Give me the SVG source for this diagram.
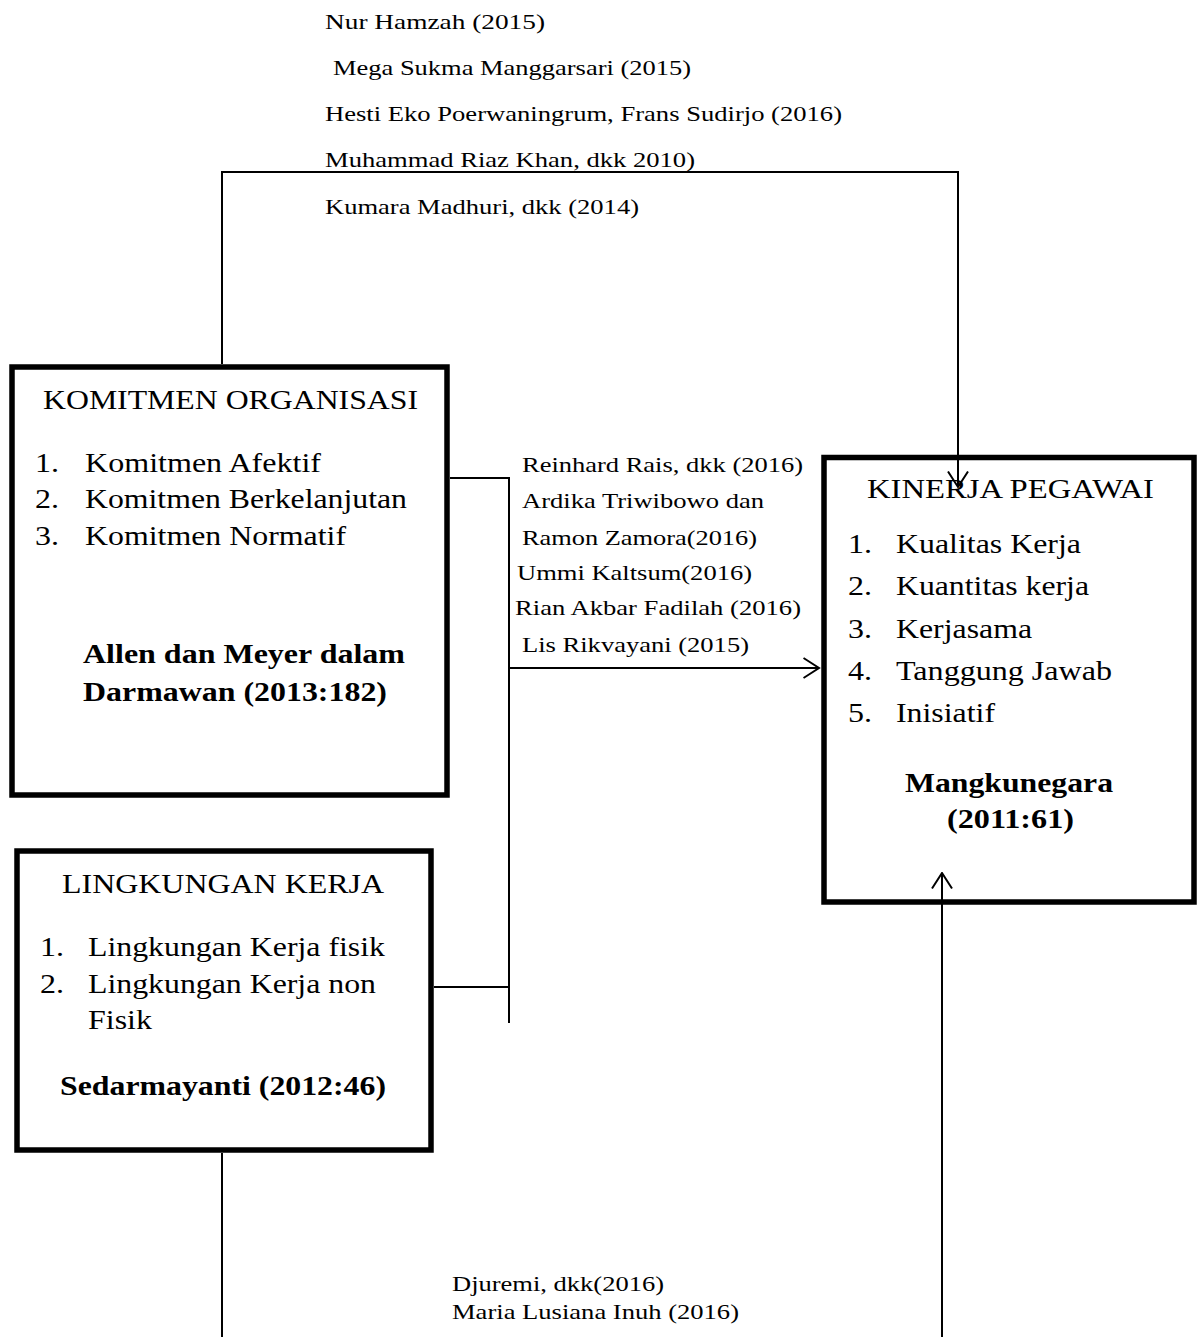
<svg xmlns="http://www.w3.org/2000/svg" width="1202" height="1337" viewBox="0 0 1202 1337" font-family="'Liberation Serif', 'Times New Roman', Times, serif">
<style>
text{font-family:'Liberation Serif','Times New Roman',Times,serif;fill:#000}
.s{font-size:21.5px}
.b{font-size:27.5px}
.bb{font-size:27.5px;font-weight:bold}
.box{fill:#fff;stroke:#000;stroke-width:5.5}
.ln{fill:none;stroke:#000;stroke-width:2}
</style>
<defs>
<marker id="arr" markerUnits="userSpaceOnUse" viewBox="0 0 18 22" refX="16.5" refY="11" markerWidth="18" markerHeight="22" orient="auto">
<path d="M1,1 L16.5,11 L1,21" fill="none" stroke="#000" stroke-width="2"/>
</marker>
</defs>
<rect width="1202" height="1337" fill="#fff"/>

<g id="labels-top">
<text class="s" x="325" y="29" textLength="220" lengthAdjust="spacingAndGlyphs">Nur Hamzah  (2015)</text>
<text class="s" x="333" y="75" textLength="358" lengthAdjust="spacingAndGlyphs">Mega Sukma Manggarsari (2015)</text>
<text class="s" x="325" y="121" textLength="517" lengthAdjust="spacingAndGlyphs">Hesti Eko Poerwaningrum, Frans Sudirjo (2016)</text>
<text class="s" x="325" y="167" textLength="370" lengthAdjust="spacingAndGlyphs">Muhammad Riaz Khan, dkk 2010)</text>
<text class="s" x="325" y="214" textLength="314" lengthAdjust="spacingAndGlyphs">Kumara Madhuri, dkk (2014)</text>
</g>

<g id="labels-middle">
<text class="s" x="522" y="472" textLength="281" lengthAdjust="spacingAndGlyphs">Reinhard Rais, dkk (2016)</text>
<text class="s" x="522" y="508" textLength="242" lengthAdjust="spacingAndGlyphs">Ardika Triwibowo dan</text>
<text class="s" x="522" y="545" textLength="235" lengthAdjust="spacingAndGlyphs">Ramon Zamora(2016)</text>
<text class="s" x="517" y="580" textLength="235" lengthAdjust="spacingAndGlyphs">Ummi Kaltsum(2016)</text>
<text class="s" x="515" y="615" textLength="286" lengthAdjust="spacingAndGlyphs">Rian Akbar Fadilah (2016)</text>
<text class="s" x="522" y="652" textLength="227" lengthAdjust="spacingAndGlyphs">Lis Rikvayani (2015)</text>
</g>

<g id="labels-bottom">
<text class="s" x="452" y="1291" textLength="212" lengthAdjust="spacingAndGlyphs">Djuremi, dkk(2016)</text>
<text class="s" x="452" y="1319" textLength="287" lengthAdjust="spacingAndGlyphs">Maria Lusiana Inuh (2016)</text>
</g>

<g id="komitmen-organisasi">
<rect class="box" x="12" y="367" width="435" height="428"/>
<text class="b" x="43" y="409" textLength="375" lengthAdjust="spacingAndGlyphs">KOMITMEN ORGANISASI</text>
<text class="b" x="35" y="472" textLength="24" lengthAdjust="spacingAndGlyphs">1.</text>
<text class="b" x="85" y="472" textLength="236" lengthAdjust="spacingAndGlyphs">Komitmen Afektif</text>
<text class="b" x="35" y="508" textLength="24" lengthAdjust="spacingAndGlyphs">2.</text>
<text class="b" x="85" y="508" textLength="322" lengthAdjust="spacingAndGlyphs">Komitmen Berkelanjutan</text>
<text class="b" x="35" y="545" textLength="24" lengthAdjust="spacingAndGlyphs">3.</text>
<text class="b" x="85" y="545" textLength="261" lengthAdjust="spacingAndGlyphs">Komitmen Normatif</text>
<text class="bb" x="83" y="663" textLength="322" lengthAdjust="spacingAndGlyphs">Allen dan Meyer dalam</text>
<text class="bb" x="83" y="701" textLength="304" lengthAdjust="spacingAndGlyphs">Darmawan (2013:182)</text>
</g>

<g id="kinerja-pegawai">
<rect class="box" x="824" y="457.5" width="370" height="444.5"/>
<text class="b" x="867" y="498" textLength="287" lengthAdjust="spacingAndGlyphs">KINERJA PEGAWAI</text>
<text class="b" x="848" y="553" textLength="24" lengthAdjust="spacingAndGlyphs">1.</text>
<text class="b" x="896" y="553" textLength="185" lengthAdjust="spacingAndGlyphs">Kualitas Kerja</text>
<text class="b" x="848" y="595" textLength="24" lengthAdjust="spacingAndGlyphs">2.</text>
<text class="b" x="896" y="595" textLength="193" lengthAdjust="spacingAndGlyphs">Kuantitas kerja</text>
<text class="b" x="848" y="638" textLength="24" lengthAdjust="spacingAndGlyphs">3.</text>
<text class="b" x="896" y="638" textLength="136" lengthAdjust="spacingAndGlyphs">Kerjasama</text>
<text class="b" x="848" y="680" textLength="24" lengthAdjust="spacingAndGlyphs">4.</text>
<text class="b" x="896" y="680" textLength="216" lengthAdjust="spacingAndGlyphs">Tanggung Jawab</text>
<text class="b" x="848" y="722" textLength="24" lengthAdjust="spacingAndGlyphs">5.</text>
<text class="b" x="896" y="722" textLength="99" lengthAdjust="spacingAndGlyphs">Inisiatif</text>
<text class="bb" x="905" y="792" textLength="208" lengthAdjust="spacingAndGlyphs">Mangkunegara</text>
<text class="bb" x="947" y="828" textLength="127" lengthAdjust="spacingAndGlyphs">(2011:61)</text>
</g>

<g id="lingkungan-kerja">
<rect class="box" x="17" y="851" width="414" height="299"/>
<text class="b" x="62" y="893" textLength="322" lengthAdjust="spacingAndGlyphs">LINGKUNGAN KERJA</text>
<text class="b" x="40" y="956" textLength="24" lengthAdjust="spacingAndGlyphs">1.</text>
<text class="b" x="88" y="956" textLength="297" lengthAdjust="spacingAndGlyphs">Lingkungan Kerja fisik</text>
<text class="b" x="40" y="993" textLength="24" lengthAdjust="spacingAndGlyphs">2.</text>
<text class="b" x="88" y="993" textLength="288" lengthAdjust="spacingAndGlyphs">Lingkungan Kerja non</text>
<text class="b" x="88" y="1029" textLength="64" lengthAdjust="spacingAndGlyphs">Fisik</text>
<text class="bb" x="60" y="1095" textLength="326" lengthAdjust="spacingAndGlyphs">Sedarmayanti (2012:46)</text>
</g>

<g id="connectors">
<path class="ln" d="M222,364 V172 H958 V487" marker-end="url(#arr)"/>
<path class="ln" d="M450,478 H509 V1023"/>
<path class="ln" d="M434,987 H509"/>
<path class="ln" d="M509,668 H819" marker-end="url(#arr)"/>
<path class="ln" d="M222,1153 V1337"/>
<path class="ln" d="M942,1337 V873" marker-end="url(#arr)"/>
</g>
</svg>
